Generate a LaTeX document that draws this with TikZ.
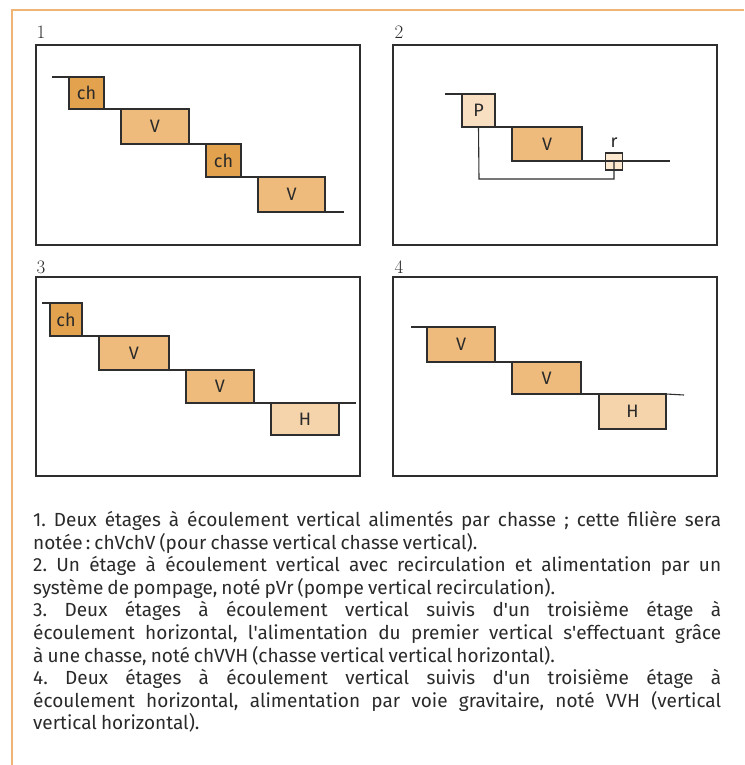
\documentclass[tikz,border=0pt]{standalone}
\usepackage{fontspec}
\setmainfont{Fira Sans}[WordSpace=0.8]
\newfontfamily\numfont{Latin Modern Roman}
\definecolor{chcol}{HTML}{E3A24E}
\definecolor{vcol}{HTML}{EEBB7C}
\definecolor{hcol}{HTML}{F5D4AC}
\definecolor{pcol}{HTML}{F8DFC2}
\definecolor{rcol}{HTML}{FCE8CF}
\definecolor{bordercol}{HTML}{F0B474}
\definecolor{linecol}{HTML}{2E2E2E}
\definecolor{txtcol}{HTML}{2A2A2A}
\begin{document}
\frenchspacing
\begin{tikzpicture}[x=1pt,y=-1pt,
  panel/.style={draw=linecol, line width=1.4pt, inner sep=0pt, outer sep=0pt, anchor=north west},
  stage/.style={draw=linecol, line width=1.2pt, inner sep=0pt, outer sep=0pt, anchor=north west,
    text=txtcol, font=\fontsize{18}{20}\selectfont},
  pipe/.style={draw=linecol, line width=1.1pt},
  plabel/.style={text=txtcol, font=\fontsize{18}{20}\selectfont, inner sep=0pt},
  numlabel/.style={text=txtcol, font=\fontsize{19}{20}\selectfont\numfont, inner sep=0pt},
  chst/.style={stage, fill=chcol},
  vst/.style={stage, fill=vcol},
  hst/.style={stage, fill=hcol}]
\useasboundingbox (0,0) rectangle (744,765);
\draw[bordercol, line width=1.6pt] (12,765) -- (12,10) -- (744,10);

% ---------- panel 1
\node[numlabel] (l1) at (41,32) {1};
\node[panel, minimum width=324pt, minimum height=200pt] (f1) at (36,45) {};
\coordinate (p1s) at (52,77);
\node[chst, minimum width=35pt, minimum height=32pt] (p1a) at (69,77) {ch};
\node[vst, minimum width=68pt, minimum height=35pt] (p1b) at (121,109) {V};
\node[chst, minimum width=35pt, minimum height=33pt] (p1c) at (206,144) {ch};
\node[vst, minimum width=67pt, minimum height=35pt] (p1d) at (258,177) {V};
\coordinate (p1e) at (344,212);
\draw[pipe] (p1s) -- (p1a.north west);
\draw[pipe] (p1a.south east) -- (p1b.north west);
\draw[pipe] (p1b.south east) -- (p1c.north west);
\draw[pipe] (p1c.south east) -- (p1d.north west);
\draw[pipe] (p1d.south east) -- (p1e);

% ---------- panel 2
\node[numlabel] (l2) at (399,32) {2};
\node[panel, minimum width=324pt, minimum height=200pt] (f2) at (393,45) {};
\coordinate (p2s) at (445,94);
\node[stage, fill=pcol, minimum width=33pt, minimum height=33pt] (p2p) at (462,94) {P};
\node[vst, minimum width=70pt, minimum height=34pt] (p2v) at (512,127) {V};
\node[stage, fill=rcol, minimum width=17pt, minimum height=17pt, anchor=center] (p2r) at (614,161.5) {};
\node[plabel] (p2rl) at (614,143) {r};
\coordinate (p2e) at (670,161);
\coordinate (p2low) at (479,179);
\draw[pipe] (p2s) -- (p2p.north west);
\draw[pipe] (p2p.south east) -- (p2v.north west);
\draw[pipe] (p2v.south east) -- (p2e);
\draw[pipe] (p2p.south) -- (p2low) -| (p2r.center);

% ---------- panel 3
\node[numlabel] (l3) at (41,267) {3};
\node[panel, minimum width=324pt, minimum height=199pt] (f3) at (36,277) {};
\coordinate (p3s) at (42,303);
\node[chst, minimum width=32pt, minimum height=33pt] (p3a) at (50,303) {ch};
\node[vst, minimum width=70pt, minimum height=34pt] (p3b) at (99,336) {V};
\node[vst, minimum width=68pt, minimum height=33pt] (p3c) at (186,370) {V};
\node[hst, minimum width=68pt, minimum height=32pt] (p3d) at (271,403) {H};
\coordinate (p3e) at (356,403);
\draw[pipe] (p3s) -- (p3a.north west);
\draw[pipe] (p3a.south east) -- (p3b.north west);
\draw[pipe] (p3b.south east) -- (p3c.north west);
\draw[pipe] (p3c.south east) -- (p3e);

% ---------- panel 4
\node[numlabel] (l4) at (399,267) {4};
\node[panel, minimum width=324pt, minimum height=199pt] (f4) at (393,277) {};
\coordinate (p4s) at (411,327);
\node[vst, minimum width=68pt, minimum height=35pt] (p4a) at (427,327) {V};
\node[vst, minimum width=69pt, minimum height=32pt] (p4b) at (512,362) {V};
\node[hst, minimum width=67pt, minimum height=35pt] (p4c) at (599,394) {H};
\coordinate (p4e) at (684,395);
\draw[pipe] (p4s) -- (p4a.north west);
\draw[pipe] (p4a.south east) -- (p4b.north west);
\draw[pipe] (p4b.south east) -- (p4c.north west);
\draw[pipe] (p4c.north east) -- (p4e);

% ---------- caption
\node[anchor=north west, inner sep=0pt, text width=688pt, align=justify, text=txtcol,
  font=\fontsize{19}{22.6}\selectfont] (cap) at (33,511) {%
1. Deux étages à écoulement vertical alimentés par chasse ; cette filière sera\linebreak
notée\,: chVchV (pour chasse vertical chasse vertical).\par
2. Un étage à écoulement vertical avec recirculation et alimentation par un\linebreak
système de pompage, noté pVr (pompe vertical recirculation).\par
3. Deux étages à écoulement vertical suivis d\textquotesingle un troisième étage à\linebreak
écoulement horizontal, l\textquotesingle alimentation du premier vertical s\textquotesingle effectuant grâce\linebreak
à une chasse, noté chVVH (chasse vertical vertical horizontal).\par
4. Deux étages à écoulement vertical suivis d\textquotesingle un troisième étage à\linebreak
écoulement horizontal, alimentation par voie gravitaire, noté VVH (vertical\linebreak
vertical horizontal).};
\end{tikzpicture}
\end{document}
